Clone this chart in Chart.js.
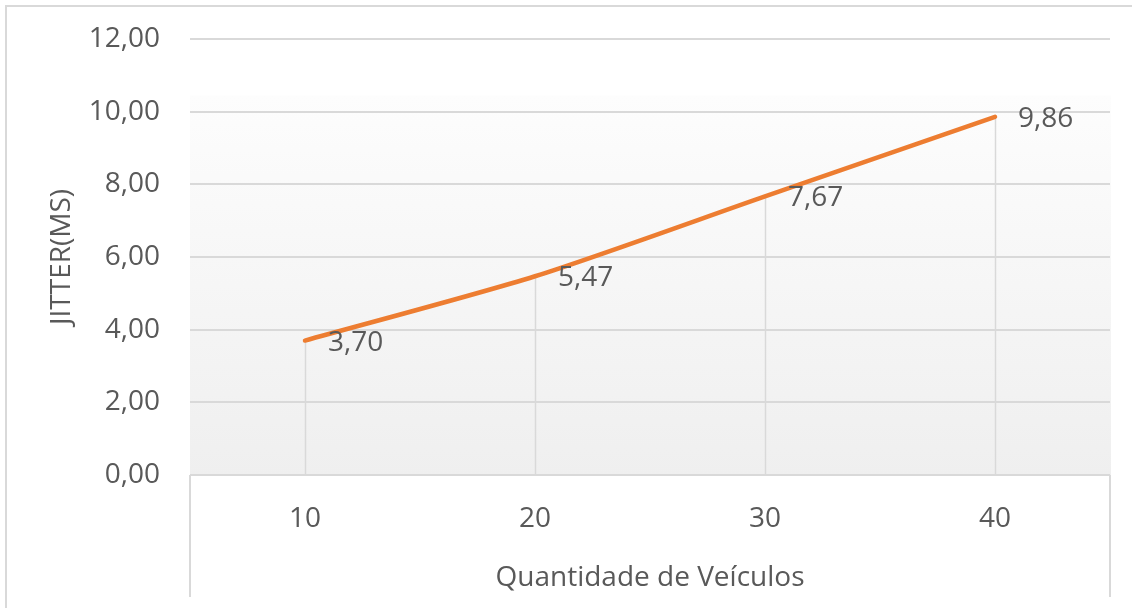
<!DOCTYPE html>
<html>
<head>
<meta charset="utf-8">
<script src="https://cdn.jsdelivr.net/npm/chart.js@4"></script>
<style>
  html, body { margin: 0; padding: 0; background: #ffffff; }
  canvas { display: block; }
</style>
</head>
<body>
<canvas id="chart" width="1132" height="608"></canvas>
<script>
// Jitter (ms) per number of vehicles
const vehicleCounts = ['10', '20', '30', '40'];
const jitterMs = [3.70, 5.47, 7.67, 9.86];
const yTicks = [0, 2, 4, 6, 8, 10, 12];

const FONT = "'Open Sans', 'DejaVu Sans', sans-serif";
const TEXT = '#595959';
const GRID = '#d9d9d9';

const fmt = (v, d) => v.toFixed(d).replace('.', ',');

// Backdrop: outer frame, shaded plot band and the frame lines under the axis
const decor = {
  id: 'decor',
  beforeDraw(chart) {
    const { ctx, chartArea: a, scales: { y } } = chart;
    ctx.save();
    const top = y.getPixelForValue(10.45);
    const g = ctx.createLinearGradient(0, top, 0, a.bottom);
    g.addColorStop(0, '#fdfdfd');
    g.addColorStop(1, '#efefef');
    ctx.fillStyle = g;
    ctx.fillRect(a.left, top, a.right - a.left + 1, a.bottom - top);

    ctx.strokeStyle = GRID;
    ctx.lineWidth = 2;
    ctx.beginPath();
    ctx.moveTo(6, chart.height);
    ctx.lineTo(6, 6);
    ctx.lineTo(chart.width, 6);
    ctx.moveTo(a.left, a.bottom);
    ctx.lineTo(a.left, 597);
    ctx.moveTo(a.right, a.bottom);
    ctx.lineTo(a.right, 597);
    ctx.stroke();
    ctx.restore();
  },
  // drop lines from each point to the baseline
  beforeDatasetsDraw(chart) {
    const { ctx, scales: { y } } = chart;
    const base = y.getPixelForValue(0);
    ctx.save();
    ctx.strokeStyle = GRID;
    ctx.lineWidth = 1.5;
    chart.getDatasetMeta(0).data.forEach(p => {
      ctx.beginPath();
      ctx.moveTo(Math.round(p.x) + 0.5, p.y);
      ctx.lineTo(Math.round(p.x) + 0.5, base);
      ctx.stroke();
    });
    ctx.restore();
  },
  // value labels beside each point
  afterDatasetsDraw(chart) {
    const { ctx } = chart;
    ctx.save();
    ctx.font = `28px ${FONT}`;
    ctx.fillStyle = TEXT;
    ctx.textAlign = 'left';
    ctx.textBaseline = 'middle';
    chart.getDatasetMeta(0).data.forEach((p, i) => {
      ctx.fillText(fmt(jitterMs[i], 2), p.x + 23, p.y + 2);
    });
    ctx.restore();
  }
};

new Chart(document.getElementById('chart'), {
  type: 'line',
  data: {
    labels: vehicleCounts,
    datasets: [{
      data: jitterMs,
      borderColor: '#ED7D31',
      borderWidth: 4.5,
      borderCapStyle: 'round',
      tension: 0.25,
      pointRadius: 0,
      pointHoverRadius: 0
    }]
  },
  options: {
    responsive: false,
    animation: false,
    events: [],
    layout: { padding: { top: 39, right: 22, left: 0, bottom: 0 } },
    plugins: { legend: { display: false }, tooltip: { enabled: false } },
    scales: {
      x: {
        offset: true,
        grid: { display: false },
        border: { display: false },
        ticks: { color: TEXT, font: { family: FONT, size: 28 }, padding: 19, maxRotation: 0 },
        title: {
          display: true,
          text: 'Quantidade de Veículos',
          color: TEXT,
          font: { family: FONT, size: 28 },
          padding: { top: 0, bottom: 13 }
        },
        afterFit(s) { s.height = 133; }
      },
      y: {
        min: 0,
        max: 12,
        afterBuildTicks(s) { s.ticks = yTicks.map(v => ({ value: v })); },
        grid: { color: GRID, lineWidth: 2, drawTicks: false },
        border: { display: false },
        ticks: {
          color: TEXT,
          font: { family: FONT, size: 28 },
          padding: 30,
          callback: v => fmt(v, 2)
        },
        title: {
          display: true,
          text: 'JITTER(MS)',
          color: TEXT,
          font: { family: FONT, size: 28 },
          padding: { top: 45, bottom: 0 }
        },
        afterFit(s) {
          s.width = 190;
          s.paddingTop = 0;
          s.paddingBottom = 0;
        }
      }
    }
  },
  plugins: [decor]
});
</script>
</body>
</html>
